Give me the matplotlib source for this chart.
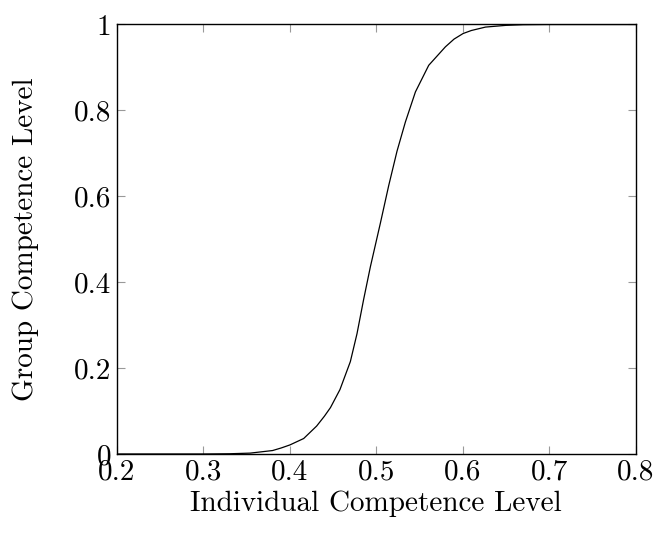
import numpy as np
import matplotlib.pyplot as plt

plt.rcParams['font.family'] = 'serif'
plt.rcParams['font.serif'] = ['cmr10']
plt.rcParams['mathtext.fontset'] = 'cm'
plt.rcParams['axes.formatter.use_mathtext'] = True

# points
individual = [0.20, 0.25, 0.30, 0.33, 0.354, 0.38, 0.39, 0.400, 0.416, 0.431, 0.440,
              0.447, 0.458, 0.470, 0.4777, 0.4854, 0.4932, 0.5047, 0.5144, 0.524,
              0.5337, 0.5453, 0.5607, 0.580, 0.590, 0.6005, 0.610, 0.6264, 0.650,
              0.670, 0.70, 0.75, 0.80]
group = [0.0, 0.0, 0.0, 0.0005, 0.002, 0.008, 0.014, 0.021, 0.036, 0.065, 0.088,
         0.108, 0.150, 0.215, 0.280, 0.360, 0.436, 0.537, 0.625, 0.705,
         0.773, 0.843, 0.905, 0.948, 0.966, 0.979, 0.986, 0.994, 0.998,
         0.9995, 1.0, 1.0, 1.0]

xticks = [0.2, 0.3, 0.4, 0.5, 0.6, 0.7, 0.8]
yticks = [0, 0.2, 0.4, 0.6, 0.8, 1]

fig = plt.figure(figsize=(6.6, 5.42), dpi=100)
ax = fig.add_axes([0.1773, 0.1624, 0.7856, 0.7924])

ax.plot(individual, group, color='black', linewidth=0.9)

ax.set_xlim(0.2, 0.8)
ax.set_ylim(0, 1)
ax.set_xticks(xticks)
ax.set_yticks(yticks)
ax.set_xticklabels(['0.2', '0.3', '0.4', '0.5', '0.6', '0.7', '0.8'])
ax.set_yticklabels(['0', '0.2', '0.4', '0.6', '0.8', '1'])
ax.tick_params(direction='in', length=6, width=0.8, color='#999999',
               top=True, right=True, labelsize=21, pad=4)
for s in ax.spines.values():
    s.set_linewidth(1.0)
    s.set_color('black')

ax.set_xlabel('Individual Competence Level', fontsize=21, labelpad=3)
ax.set_ylabel('Group Competence Level', fontsize=21, labelpad=25)

fig.savefig('out.png', dpi=100)
